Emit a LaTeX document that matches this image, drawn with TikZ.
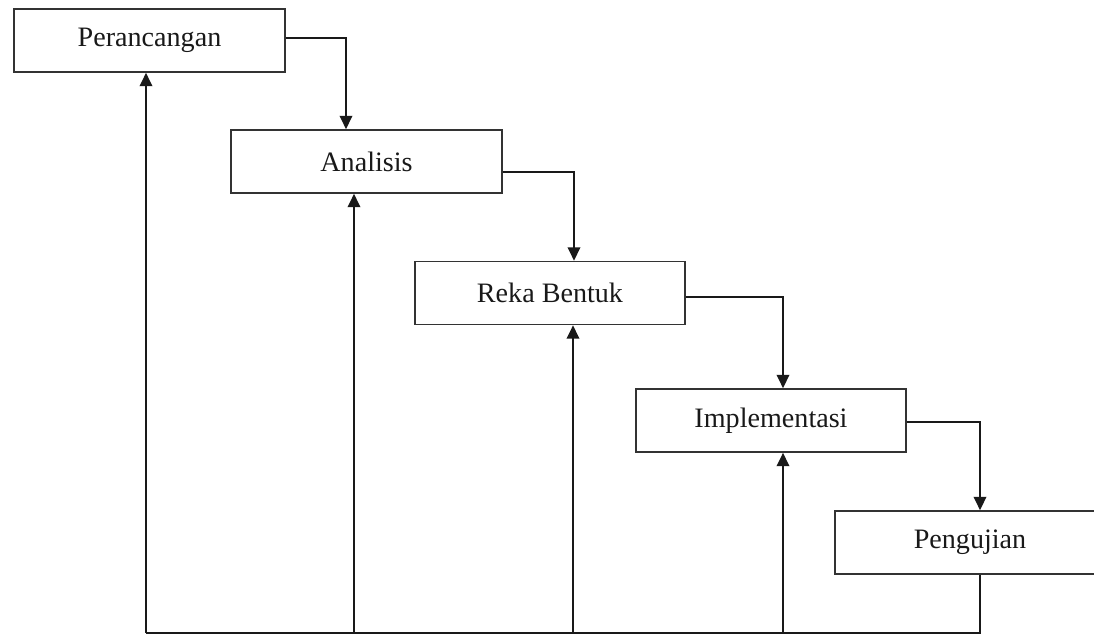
\documentclass[tikz,border=0pt]{standalone}
\usepackage{fontspec}
\setmainfont{Liberation Serif}
\usetikzlibrary{arrows.meta}
\begin{document}
\begin{tikzpicture}[x=0.03cm,y=-0.03cm,
  stage/.style={draw=black!80,line width=1.5pt,fill=white,minimum height=1.89cm,inner sep=0pt,
    font=\fontsize{24}{28}\selectfont,text=black!90},
  conn/.style={draw=black!90,line width=1.4pt},
  arr/.style={conn,-{Triangle[length=0.4cm,width=0.38cm]}}]
\useasboundingbox (0,0) rectangle (1094,635);
\clip (0,0) rectangle (1094,635);
\fill[white] (0,0) rectangle (1094,635);
\node[stage,minimum width=8.13cm] (per) at (149.5,40.5) {Perancangan};
\node[stage,minimum width=8.13cm] (an) at (366.5,161.5) {Analisis};
\node[stage,minimum width=8.1cm] (rb) at (550,293) {Reka Bentuk};
\node[stage,minimum width=8.1cm] (im) at (771,420.5) {Implementasi};
\node[stage,minimum width=8.1cm] (pg) at (970,542.5) {Pengujian};
\coordinate (bl) at (146,633);
\coordinate (br) at (980,633);
% forward flow
\draw[arr] (per.east |- 0,38) -| (an.north -| 346,0);
\draw[arr] (an.east |- 0,172) -| (rb.north -| 574,0);
\draw[arr] (rb.east |- 0,297) -| (im.north -| 783,0);
\draw[arr] (im.east |- 0,422) -| (pg.north -| 980,0);
% feedback
\draw[conn] (pg.south -| br) -- (br) -- (bl);
\draw[arr] (bl) -- (per.south -| bl);
\draw[arr] (bl -| 354,0) -- (an.south -| 354,0);
\draw[arr] (bl -| 573,0) -- (rb.south -| 573,0);
\draw[arr] (bl -| 783,0) -- (im.south -| 783,0);
\end{tikzpicture}
\end{document}
